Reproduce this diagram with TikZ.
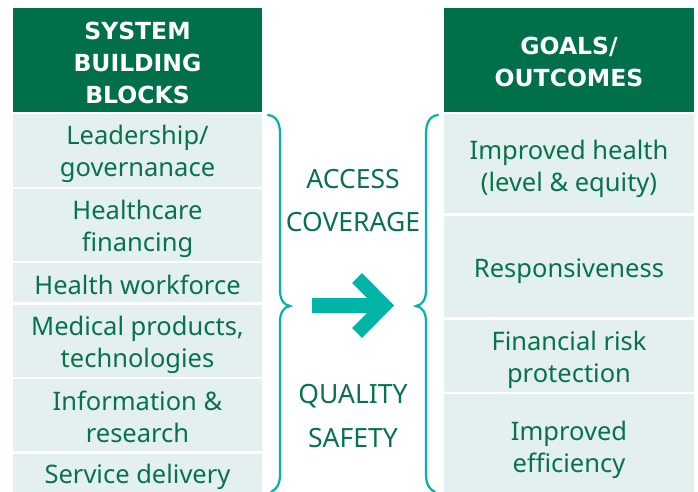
\documentclass[tikz,border=0pt]{standalone}
\usepackage{fontspec}
\setmainfont{Noto Sans}
\newfontfamily\hdrfont{DejaVu Sans}
\definecolor{hdr}{RGB}{0,112,74}
\definecolor{cellbg}{RGB}{227,240,239}
\definecolor{txt}{RGB}{8,114,78}
\definecolor{teal}{RGB}{0,180,167}
\begin{document}
\begin{tikzpicture}[x=1pt,y=-1pt,
  hdrbox/.style={fill=hdr,inner sep=0pt,anchor=center},
  cellbox/.style={fill=cellbg,inner sep=0pt,anchor=center},
  hdrtext/.style={text=white,font=\hdrfont\bfseries\fontsize{23.5}{32}\selectfont,align=center,inner sep=0pt,anchor=center},
  celltext/.style={text=txt,font=\fontsize{25.5}{32}\selectfont,align=center,inner sep=0pt,anchor=center},
  midtext/.style={text=txt,font=\fontsize{26.5}{32}\selectfont,inner sep=0pt,anchor=center},
  bracepath/.style={draw=teal,line width=2.2pt,line cap=round}]
\useasboundingbox (0,0) rectangle (698,492);
% left column boxes
\node[hdrbox,minimum width=249pt,minimum height=104pt] (lh) at (137.5,60) {};
\node[cellbox,minimum width=249pt,minimum height=73pt] (l1) at (137.5,150.5) {};
\node[cellbox,minimum width=249pt,minimum height=72pt] (l2) at (137.5,225) {};
\node[cellbox,minimum width=249pt,minimum height=39pt] (l3) at (137.5,282.5) {};
\node[cellbox,minimum width=249pt,minimum height=72pt] (l4) at (137.5,341) {};
\node[cellbox,minimum width=249pt,minimum height=72pt] (l5) at (137.5,415) {};
\node[cellbox,minimum width=249pt,minimum height=40pt] (l6) at (137.5,474) {};
% left column texts
\node[hdrtext] (lht) at (137.5,62.5) {SYSTEM\\BUILDING\\BLOCKS};
\node[celltext] (l1t) at (137.5,153.5) {Leadership/\\governanace};
\node[celltext] (l2t) at (137.5,229) {Healthcare\\financing};
\node[celltext] (l3t) at (137.5,284.5) {Health workforce};
\node[celltext] (l4t) at (137.5,344.5) {Medical products,\\technologies};
\node[celltext] (l5t) at (137.5,416.5) {Information \&\\research};
\node[celltext] (l6t) at (137.5,476.5) {Service delivery};
% right column boxes
\node[hdrbox,minimum width=250pt,minimum height=104pt] (rh) at (569,60) {};
\node[cellbox,minimum width=250pt,minimum height=99pt] (r1) at (569,163.5) {};
\node[cellbox,minimum width=250pt,minimum height=101pt] (r2) at (569,266.5) {};
\node[cellbox,minimum width=250pt,minimum height=72pt] (r3) at (569,356) {};
\node[cellbox,minimum width=250pt,minimum height=98pt] (r4) at (569,443) {};
% right column texts
\node[hdrtext] (rht) at (569,62) {GOALS/\\OUTCOMES};
\node[celltext] (r1t) at (569,168.5) {Improved health\\(level \& equity)};
\node[celltext] (r2t) at (569,271) {Responsiveness};
\node[celltext] (r3t) at (569,360) {Financial risk\\protection};
\node[celltext] (r4t) at (569,450) {Improved\\efficiency};
% middle texts
\node[midtext] (t1) at (353,179.5) {ACCESS};
\node[midtext] (t2) at (353,222) {COVERAGE};
\node[midtext] (t3) at (353,396) {QUALITY};
\node[midtext] (t4) at (353,438.5) {SAFETY};
% left brace
\draw[bracepath] (268,115) .. controls (276,116) and (280,122) .. (280,134)
  -- (280,290) .. controls (280,300) and (284,305) .. (290,306)
  .. controls (284,307) and (280,312) .. (280,322)
  -- (280,474) .. controls (280,484) and (277,489) .. (271,492);
% right brace
\draw[bracepath] (438,115) .. controls (430,116) and (426,122) .. (426,134)
  -- (426,290) .. controls (426,300) and (422,305) .. (416,306)
  .. controls (422,307) and (426,312) .. (426,322)
  -- (426,474) .. controls (426,484) and (429,489) .. (435,492);
% arrow
\fill[teal] (312,298) -- (367,298) -- (352,283) -- (362,273) -- (394,305.5)
  -- (362,338) -- (352,328) -- (367,313) -- (312,313) -- cycle;
\end{tikzpicture}
\end{document}
